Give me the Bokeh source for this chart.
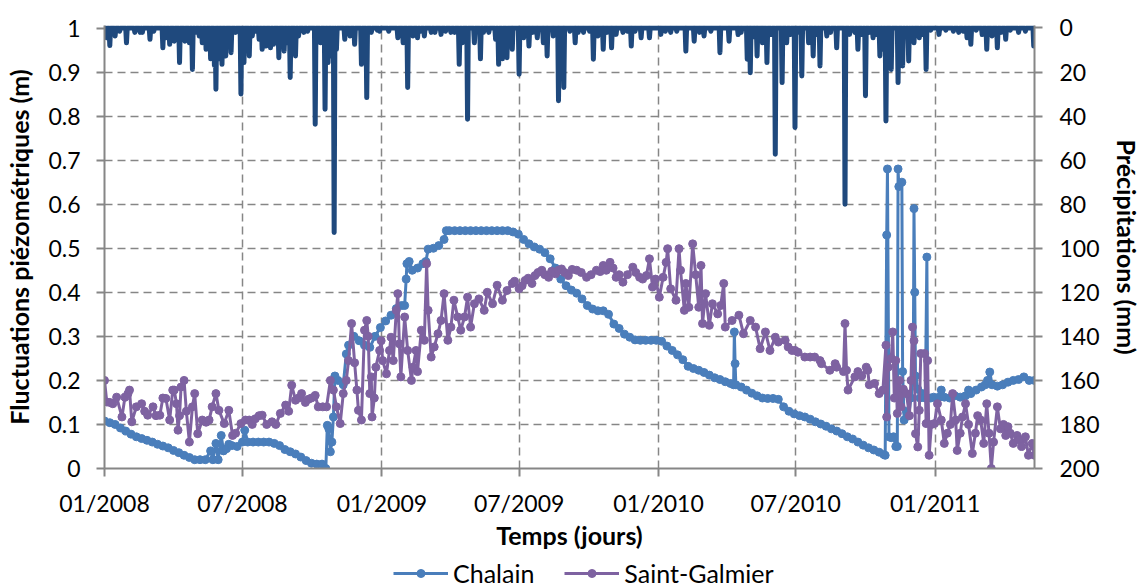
import numpy as np
import pandas as pd
from bokeh.plotting import figure
from bokeh.layouts import column
from bokeh.models import (Range1d, LinearAxis, FixedTicker, NumeralTickFormatter,
                          DatetimeTickFormatter, Legend, LegendItem, ColumnDataSource)
from bokeh.embed import file_html
from bokeh.resources import INLINE

# ---------------- data ----------------
start_date = "2008-01-01"
end_date = "2011-05-12"

x_tick_labels = ["01/2008", "07/2008", "01/2009", "07/2009", "01/2010", "07/2010", "01/2011"]
y_left_ticks = [0, 0.1, 0.2, 0.3, 0.4, 0.5, 0.6, 0.7, 0.8, 0.9, 1]
y_right_ticks = [0, 20, 40, 60, 80, 100, 120, 140, 160, 180, 200]
series_names = ["Chalain", "Saint-Galmier"]

# Chalain: day offset from start_date, fluctuation (m)
chalain_day = [0, 7, 14, 21, 28, 35, 42, 49, 56, 63, 70, 77, 84, 91, 98, 105, 112, 119, 126, 133,
               140, 143, 147, 150, 154, 157, 161, 164, 168, 175, 182, 185, 189, 196, 203, 210, 217,
               224, 231, 238, 245, 252, 259, 266, 273, 280, 287, 292, 294, 296, 298, 300, 302, 304,
               308, 315, 319, 322, 329, 336, 343, 350, 357, 364, 371, 378, 385, 392, 396, 398, 399,
               402, 406, 413, 420, 424, 427, 434, 441, 448, 451, 455, 462, 469, 476, 483, 490, 497,
               504, 511, 518, 525, 532, 539, 546, 553, 560, 567, 574, 581, 588, 595, 602, 609, 616,
               623, 630, 637, 644, 651, 658, 665, 672, 679, 686, 693, 700, 707, 714, 721, 728, 735,
               742, 749, 756, 763, 770, 777, 784, 791, 798, 805, 812, 819, 826, 830, 831, 832, 833,
               840, 847, 854, 861, 868, 875, 882, 889, 896, 903, 910, 917, 924, 931, 938, 945, 952,
               959, 966, 973, 980, 987, 994, 1001, 1008, 1015, 1022, 1028, 1030, 1032, 1033, 1035,
               1038, 1041, 1044, 1046, 1047, 1048, 1052, 1053, 1055, 1058, 1061, 1064, 1067, 1068,
               1069, 1070, 1073, 1076, 1079, 1083, 1085, 1086, 1090, 1094, 1101, 1104, 1108, 1115,
               1122, 1129, 1136, 1140, 1143, 1150, 1157, 1162, 1165, 1168, 1171, 1178, 1185, 1192,
               1199, 1206, 1213, 1220, 1227]
chalain_m = [0.108, 0.104, 0.100, 0.092, 0.085, 0.078, 0.072, 0.068, 0.064, 0.060, 0.055, 0.051,
             0.047, 0.041, 0.036, 0.030, 0.025, 0.020, 0.020, 0.020, 0.040, 0.020, 0.057, 0.020,
             0.075, 0.040, 0.045, 0.055, 0.052, 0.050, 0.060, 0.087, 0.060, 0.060, 0.060, 0.060,
             0.060, 0.057, 0.052, 0.043, 0.038, 0.033, 0.026, 0.018, 0.012, 0.010, 0.010, 0.000,
             0.098, 0.090, 0.038, 0.060, 0.117, 0.210, 0.200, 0.190, 0.260, 0.280, 0.300, 0.290,
             0.280, 0.275, 0.300, 0.320, 0.335, 0.348, 0.363, 0.370, 0.370, 0.430, 0.465, 0.470,
             0.450, 0.455, 0.465, 0.470, 0.498, 0.500, 0.506, 0.520, 0.540, 0.540, 0.540, 0.540,
             0.540, 0.540, 0.540, 0.540, 0.540, 0.540, 0.540, 0.540, 0.540, 0.537, 0.532, 0.520,
             0.510, 0.503, 0.498, 0.490, 0.476, 0.455, 0.430, 0.415, 0.405, 0.398, 0.385, 0.370,
             0.362, 0.358, 0.358, 0.350, 0.328, 0.318, 0.305, 0.298, 0.292, 0.291, 0.291, 0.291,
             0.291, 0.289, 0.278, 0.268, 0.258, 0.247, 0.232, 0.227, 0.223, 0.218, 0.212, 0.206,
             0.202, 0.197, 0.193, 0.190, 0.310, 0.238, 0.190, 0.185, 0.178, 0.171, 0.165, 0.160,
             0.159, 0.159, 0.157, 0.140, 0.130, 0.124, 0.120, 0.117, 0.112, 0.106, 0.101, 0.096,
             0.090, 0.085, 0.079, 0.072, 0.067, 0.060, 0.053, 0.047, 0.042, 0.037, 0.032, 0.030,
             0.530, 0.680, 0.072, 0.070, 0.072, 0.050, 0.050, 0.680, 0.640, 0.650, 0.220, 0.110,
             0.130, 0.120, 0.160, 0.200, 0.590, 0.400, 0.210, 0.180, 0.160, 0.170, 0.160, 0.480,
             0.160, 0.160, 0.162, 0.162, 0.178, 0.162, 0.160, 0.165, 0.162, 0.165, 0.178, 0.170,
             0.178, 0.185, 0.190, 0.200, 0.219, 0.190, 0.187, 0.190, 0.196, 0.200, 0.202, 0.208,
             0.200, 0.200]

# Saint-Galmier: day offset from start_date, fluctuation (m)
galmier_day = [0, 3, 7, 11, 16, 23, 27, 31, 33, 36, 42, 49, 53, 57, 64, 68, 73, 77, 81, 86, 90, 92,
               95, 97, 99, 101, 105, 108, 112, 116, 119, 123, 129, 134, 138, 142, 147, 151, 158,
               164, 169, 173, 180, 186, 191, 195, 199, 204, 208, 214, 221, 226, 232, 239, 243, 247,
               252, 256, 260, 265, 269, 273, 278, 282, 288, 293, 298, 302, 306, 311, 315, 319, 322,
               326, 330, 333, 335, 339, 343, 346, 348, 350, 352, 353, 356, 358, 363, 365, 367, 372,
               376, 378, 381, 385, 387, 389, 391, 396, 400, 405, 407, 411, 413, 418, 422, 425, 427,
               431, 435, 440, 444, 448, 453, 457, 461, 466, 470, 475, 479, 483, 488, 494, 501, 505,
               512, 518, 525, 531, 538, 541, 547, 551, 555, 559, 564, 568, 572, 577, 581, 586, 590,
               595, 599, 603, 607, 612, 617, 623, 629, 636, 642, 649, 654, 658, 662, 667, 671, 675,
               679, 684, 690, 697, 701, 706, 710, 715, 719, 723, 727, 732, 737, 741, 743, 747, 754,
               758, 760, 765, 767, 771, 776, 780, 784, 787, 789, 793, 798, 802, 809, 813, 817, 819,
               828, 837, 843, 852, 859, 865, 872, 878, 885, 889, 898, 902, 907, 911, 915, 924, 931,
               937, 944, 946, 957, 964, 966, 975, 977, 979, 981, 990, 994, 999, 1005, 1007, 1009,
               1016, 1022, 1027, 1031, 1032, 1034, 1038, 1040, 1042, 1044, 1046, 1049, 1051, 1054,
               1058, 1062, 1064, 1066, 1068, 1070, 1073, 1075, 1077, 1082, 1084, 1086, 1088, 1091,
               1095, 1099, 1104, 1108, 1112, 1116, 1119, 1123, 1125, 1129, 1132, 1136, 1140, 1145,
               1149, 1152, 1156, 1160, 1164, 1167, 1170, 1173, 1178, 1182, 1186, 1189, 1192, 1195,
               1199, 1204, 1207, 1210, 1215, 1219, 1224, 1227]
galmier_m = [0.200, 0.151, 0.150, 0.147, 0.162, 0.117, 0.162, 0.170, 0.178, 0.106, 0.140, 0.147,
             0.130, 0.121, 0.140, 0.120, 0.121, 0.160, 0.159, 0.110, 0.178, 0.178, 0.147, 0.087,
             0.120, 0.185, 0.200, 0.130, 0.060, 0.140, 0.170, 0.079, 0.110, 0.105, 0.110, 0.140,
             0.170, 0.132, 0.102, 0.132, 0.075, 0.080, 0.102, 0.110, 0.110, 0.100, 0.113, 0.120,
             0.121, 0.100, 0.106, 0.100, 0.125, 0.144, 0.130, 0.189, 0.155, 0.160, 0.170, 0.150,
             0.157, 0.160, 0.166, 0.140, 0.140, 0.140, 0.200, 0.178, 0.140, 0.102, 0.170, 0.200,
             0.245, 0.329, 0.240, 0.178, 0.132, 0.110, 0.314, 0.336, 0.300, 0.170, 0.208, 0.117,
             0.160, 0.230, 0.268, 0.290, 0.245, 0.215, 0.268, 0.298, 0.245, 0.359, 0.397, 0.283,
             0.208, 0.344, 0.268, 0.200, 0.230, 0.268, 0.220, 0.314, 0.291, 0.465, 0.359, 0.253,
             0.276, 0.306, 0.336, 0.397, 0.291, 0.321, 0.382, 0.344, 0.314, 0.344, 0.389, 0.321,
             0.374, 0.385, 0.359, 0.400, 0.374, 0.416, 0.382, 0.404, 0.420, 0.425, 0.408, 0.415,
             0.427, 0.432, 0.420, 0.438, 0.445, 0.450, 0.440, 0.434, 0.448, 0.442, 0.450, 0.453,
             0.445, 0.438, 0.452, 0.450, 0.445, 0.434, 0.440, 0.450, 0.447, 0.461, 0.450, 0.468,
             0.455, 0.434, 0.440, 0.423, 0.440, 0.457, 0.445, 0.434, 0.430, 0.438, 0.476, 0.412,
             0.430, 0.389, 0.434, 0.468, 0.499, 0.408, 0.382, 0.499, 0.450, 0.359, 0.420, 0.366,
             0.510, 0.440, 0.366, 0.461, 0.329, 0.397, 0.325, 0.374, 0.351, 0.370, 0.420, 0.321,
             0.336, 0.348, 0.306, 0.336, 0.321, 0.272, 0.310, 0.268, 0.298, 0.287, 0.291, 0.276,
             0.268, 0.268, 0.264, 0.253, 0.253, 0.253, 0.245, 0.238, 0.223, 0.238, 0.230, 0.220,
             0.329, 0.223, 0.178, 0.208, 0.220, 0.210, 0.230, 0.223, 0.190, 0.193, 0.170, 0.178,
             0.280, 0.117, 0.230, 0.250, 0.310, 0.160, 0.245, 0.125, 0.200, 0.140, 0.180, 0.170,
             0.120, 0.200, 0.321, 0.290, 0.079, 0.049, 0.132, 0.261, 0.261, 0.102, 0.245, 0.030,
             0.100, 0.102, 0.147, 0.110, 0.057, 0.080, 0.100, 0.170, 0.110, 0.041, 0.080, 0.117,
             0.147, 0.100, 0.034, 0.080, 0.120, 0.110, 0.057, 0.147, 0.080, 0.000, 0.060, 0.140,
             0.090, 0.100, 0.075, 0.095, 0.080, 0.057, 0.075, 0.065, 0.050, 0.072, 0.030, 0.057,
             0.030]

# Precipitation events: day offset from start_date, rainfall (mm); other days 0
rain_day = [3, 7, 14, 20, 29, 40, 47, 50, 60, 65, 77, 81, 86, 92, 99, 106, 112, 116, 120, 125, 129,
            134, 140, 145, 147, 151, 155, 160, 167, 173, 180, 184, 191, 195, 199, 204, 208, 213,
            219, 223, 230, 237, 241, 245, 252, 256, 263, 268, 278, 285, 291, 295, 300, 303, 306,
            317, 324, 330, 339, 346, 352, 360, 363, 375, 387, 394, 400, 407, 413, 417, 422, 431,
            436, 444, 450, 457, 462, 468, 472, 479, 488, 496, 500, 507, 516, 520, 525, 531, 538,
            547, 553, 560, 565, 571, 579, 584, 592, 599, 606, 614, 621, 625, 632, 640, 645, 651,
            658, 663, 669, 675, 684, 690, 695, 700, 708, 719, 734, 740, 747, 755, 767, 778, 785,
            791, 800, 812, 824, 836, 840, 848, 852, 857, 861, 868, 874, 880, 885, 894, 900, 905,
            911, 915, 920, 929, 935, 940, 944, 953, 958, 966, 977, 983, 990, 994, 1000, 1004,
            1009, 1014, 1018, 1023, 1027, 1031, 1038, 1047, 1053, 1057, 1061, 1064, 1068, 1075,
            1080, 1084, 1090, 1101, 1110, 1120, 1127, 1133, 1138, 1143, 1150, 1158, 1164, 1171,
            1178, 1183, 1189, 1195, 1206, 1215, 1226]
rain_mm = [4.4, 8.0, 3.6, 1.5, 6.7, 2.0, 2.0, 2.0, 5.1, 1.5, 9.0, 4.4, 7.4, 6.0, 15.7, 6.0, 6.7,
           18.8, 2.0, 3.6, 6.7, 9.7, 14.0, 17.0, 27.8, 14.0, 16.5, 12.7, 11.2, 2.0, 30.0, 15.7,
           12.7, 3.6, 1.5, 5.1, 9.7, 8.2, 9.0, 7.4, 13.5, 10.5, 6.7, 22.5, 12.7, 3.6, 2.0, 1.5,
           43.7, 6.7, 36.9, 15.7, 12.7, 92.8, 9.7, 5.1, 3.6, 7.4, 16.5, 31.6, 2.0, 1.0, 1.5, 1.5,
           4.4, 6.7, 27.0, 3.6, 4.4, 1.5, 3.6, 2.0, 2.0, 2.9, 1.5, 2.0, 2.0, 16.5, 6.7, 41.4, 6.7,
           14.0, 2.0, 2.0, 5.1, 16.5, 14.0, 13.5, 9.7, 21.0, 4.4, 8.2, 2.0, 4.4, 6.7, 12.7, 3.6,
           33.0, 27.0, 1.5, 6.7, 2.0, 2.0, 1.5, 14.2, 3.6, 9.7, 2.0, 9.0, 2.9, 2.0, 1.5, 8.2, 1.5,
           4.4, 4.4, 2.9, 1.5, 2.0, 1.5, 10.5, 6.0, 2.0, 3.6, 1.5, 11.2, 6.0, 3.0, 2.0, 14.2, 20.3,
           4.0, 12.7, 6.7, 15.7, 3.0, 57.3, 24.8, 6.7, 3.0, 45.2, 2.0, 21.8, 6.7, 12.7, 3.0, 17.2,
           3.6, 2.0, 9.0, 80.0, 2.9, 2.0, 9.7, 3.0, 30.8, 2.0, 4.4, 3.0, 12.7, 9.7, 42.2, 18.8,
           24.8, 17.2, 4.0, 15.0, 3.0, 6.7, 4.4, 3.0, 18.8, 1.0, 2.9, 1.0, 1.5, 2.0, 1.5, 4.4, 7.4,
           1.0, 3.0, 9.7, 3.6, 9.0, 2.0, 5.1, 1.0, 2.0, 1.5, 8.2]

# ---------------- build ----------------
t0 = pd.Timestamp(start_date)
t1 = pd.Timestamp(end_date)
n_days = (t1 - t0).days


def to_dt(days):
    return t0 + pd.to_timedelta(np.asarray(days), unit="D")


def ms(ts):
    return ts.value / 1e6


src_c = ColumnDataSource(dict(x=to_dt(chalain_day), y=chalain_m))
src_g = ColumnDataSource(dict(x=to_dt(galmier_day), y=galmier_m))
rain_daily = np.zeros(n_days + 1)
rain_daily[np.asarray(rain_day)] = rain_mm
src_r = ColumnDataSource(dict(x=to_dt(np.arange(n_days + 1)), y=rain_daily))

FONT = "Lato"
GRID = "#868686"
C_BLUE = "#4A7EBB"
C_PURPLE = "#7E62A1"
C_RAIN = "#1F497D"
W = 1144
H_MAIN = 558
H_LEG = 30

p = figure(width=W, height=H_MAIN, output_backend="svg", toolbar_location=None,
           x_axis_type="datetime",
           x_range=Range1d(ms(t0), ms(t1)), y_range=Range1d(0, 1.0057),
           min_border_left=104, min_border_right=103, min_border_top=25,
           min_border_bottom=H_MAIN - 468)
p.outline_line_color = None
p.background_fill_color = "white"
p.border_fill_color = "white"
p.extra_y_ranges = {"rain": Range1d(200, -1.135)}

xaxis = p.xaxis[0]
left = p.yaxis[0]

tick_ms = [ms(pd.to_datetime(s, format="%m/%Y")) for s in x_tick_labels]
xt = FixedTicker(ticks=tick_ms)
xaxis.ticker = xt
p.xgrid[0].ticker = xt
fmt = "%m/%Y"
xaxis.formatter = DatetimeTickFormatter(microseconds=fmt, milliseconds=fmt, seconds=fmt,
                                        minsec=fmt, minutes=fmt, hourmin=fmt, hours=fmt,
                                        days=fmt, months=fmt, years=fmt)
yt = FixedTicker(ticks=y_left_ticks)
left.ticker = yt
p.ygrid[0].ticker = yt
left.formatter = NumeralTickFormatter(format="0.[0]")

right = LinearAxis(y_range_name="rain", ticker=FixedTicker(ticks=y_right_ticks))
p.add_layout(right, "right")

for ax in [xaxis, left, right]:
    ax.axis_line_color = GRID
    ax.axis_line_width = 2
    ax.major_tick_line_color = GRID
    ax.major_tick_line_width = 2
    ax.major_tick_out = 8
    ax.major_tick_in = 0
    ax.minor_tick_out = 0
    ax.minor_tick_in = 0
    ax.major_label_text_font = FONT
    ax.major_label_text_font_size = "23px"
    ax.major_label_text_color = "black"
    ax.axis_label_text_font = FONT
    ax.axis_label_text_font_size = "25px"
    ax.axis_label_text_font_style = "bold"
    ax.axis_label_text_color = "black"

left.axis_label = "Fluctuations piézométriques (m)"
right.axis_label = "Précipitations (mm)"
xaxis.axis_label = "Temps (jours)"
left.major_label_standoff = 16
left.axis_label_standoff = 11
right.major_label_standoff = 17
right.axis_label_standoff = 9
xaxis.major_label_standoff = 12
xaxis.axis_label_standoff = 0

for g in [p.xgrid[0], p.ygrid[0]]:
    g.grid_line_color = GRID
    g.grid_line_dash = "8 5"
    g.grid_line_width = 1.5

p.line("x", "y", source=src_c, color=C_BLUE, line_width=3)
p.scatter("x", "y", source=src_c, marker="circle", size=8, fill_color=C_BLUE, line_color=C_BLUE)
p.line("x", "y", source=src_g, color=C_PURPLE, line_width=3)
p.scatter("x", "y", source=src_g, marker="circle", size=8, fill_color=C_PURPLE, line_color=C_PURPLE)
p.line("x", "y", source=src_r, y_range_name="rain", color=C_RAIN, line_width=5,
       line_join="round", line_cap="round")

# ---- legend strip below the chart (its own small canvas so it is not clipped) ----
# The legend swatches need renderers with at least one row; that row lies outside
# the strip's 0..1 ranges, so nothing but the legend itself is drawn here.
pl = figure(width=W, height=H_LEG, output_backend="svg", toolbar_location=None,
            x_range=Range1d(0, 1), y_range=Range1d(0, 1),
            x_axis_location=None, y_axis_location=None, min_border=0)
pl.outline_line_color = None
pl.grid.visible = False
swatch_src = ColumnDataSource(dict(x=[-5.0], y=[-5.0]))
items = []
for name, col in zip(series_names, [C_BLUE, C_PURPLE]):
    r_line = pl.line("x", "y", source=swatch_src, color=col, line_width=3)
    r_pt = pl.scatter("x", "y", source=swatch_src, marker="circle", size=8,
                      fill_color=col, line_color=col)
    items.append(LegendItem(label=name, renderers=[r_line, r_pt]))
legend = Legend(items=items, location=(289, 0), orientation="horizontal",
                glyph_width=55, glyph_height=20, label_standoff=5, spacing=30,
                padding=0, margin=0, border_line_alpha=0, background_fill_alpha=0,
                label_text_font=FONT, label_text_font_size="25px", label_text_color="black")
pl.add_layout(legend)

layout = column(p, pl, spacing=0)
open("out.html", "w").write(file_html(layout, INLINE))
